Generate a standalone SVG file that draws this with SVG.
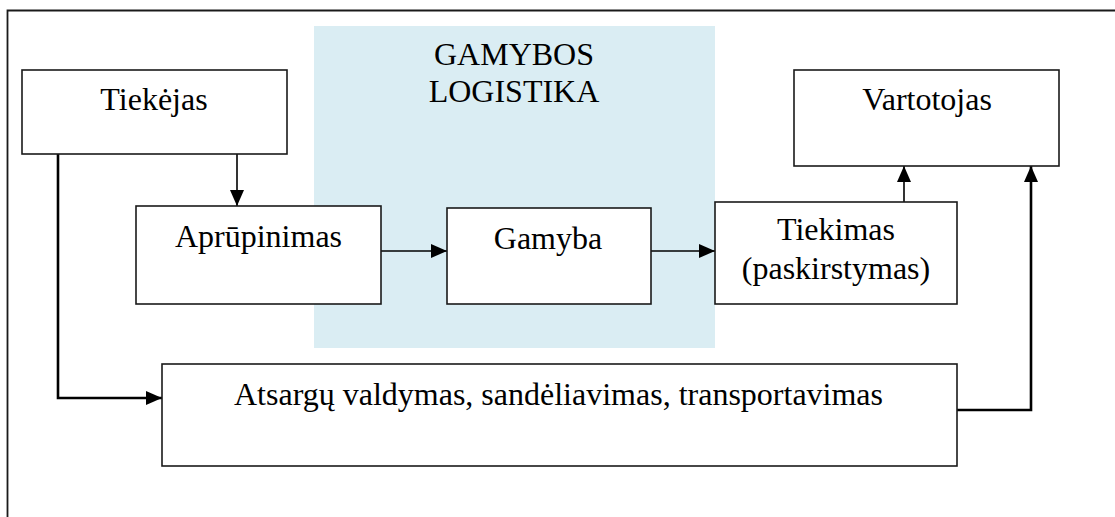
<svg xmlns="http://www.w3.org/2000/svg" width="1115" height="517" viewBox="0 0 1115 517">
  <style>
    .box { fill: #ffffff; stroke: #1a1a1a; stroke-width: 1.6; }
    .lbl { font-family: "Liberation Serif", "Times New Roman", serif; font-size: 32px; fill: #000000; text-anchor: middle; }
    .conn { fill: none; stroke: #000000; stroke-width: 1.6; }
    .thick { stroke-width: 2.6; }
  </style>
  <defs>
    <marker id="arrow" markerUnits="userSpaceOnUse" markerWidth="16" markerHeight="14" refX="16" refY="7" orient="auto">
      <path d="M0,0 L16,7 L0,14 Z" fill="#000000"/>
    </marker>
  </defs>
  <rect x="0" y="0" width="1115" height="517" fill="#ffffff"/>
  <g id="frame">
    <path d="M7.5,517 L7.5,10.5 L1115,10.5" fill="none" stroke="#1a1a1a" stroke-width="1.8"/>
  </g>
  <g id="gamybos-logistika">
    <rect x="314" y="26" width="401" height="322" fill="#daedf3"/>
    <text class="lbl" x="514" y="65">GAMYBOS</text>
    <text class="lbl" x="514" y="102">LOGISTIKA</text>
  </g>
  <g id="connectors">
    <path class="conn" d="M237,154 L237,206" marker-end="url(#arrow)"/>
    <path class="conn thick" d="M58,154 L58,398 L162,398" marker-end="url(#arrow)"/>
    <path class="conn" d="M381,251 L447,251" marker-end="url(#arrow)"/>
    <path class="conn" d="M651,251 L715,251" marker-end="url(#arrow)"/>
    <path class="conn" d="M904,202 L904,166" marker-end="url(#arrow)"/>
    <path class="conn thick" d="M957,410 L1031,410 L1031,166" marker-end="url(#arrow)"/>
  </g>
  <g id="tiekejas">
    <rect class="box" x="22" y="70" width="265" height="84"/>
    <text class="lbl" x="154" y="110">Tiekėjas</text>
  </g>
  <g id="vartotojas">
    <rect class="box" x="794" y="70" width="265" height="96"/>
    <text class="lbl" x="927" y="110">Vartotojas</text>
  </g>
  <g id="aprupinimas">
    <rect class="box" x="136" y="206" width="245" height="98"/>
    <text class="lbl" x="258.5" y="247">Aprūpinimas</text>
  </g>
  <g id="gamyba">
    <rect class="box" x="447" y="208" width="204" height="96"/>
    <text class="lbl" x="548" y="249">Gamyba</text>
  </g>
  <g id="tiekimas">
    <rect class="box" x="715" y="202" width="242" height="102"/>
    <text class="lbl" x="836" y="240">Tiekimas</text>
    <text class="lbl" x="836" y="279">(paskirstymas)</text>
  </g>
  <g id="atsargu">
    <rect class="box" x="162" y="364" width="795" height="102"/>
    <text class="lbl" x="558.5" y="405">Atsargų valdymas, sandėliavimas, transportavimas</text>
  </g>
</svg>
